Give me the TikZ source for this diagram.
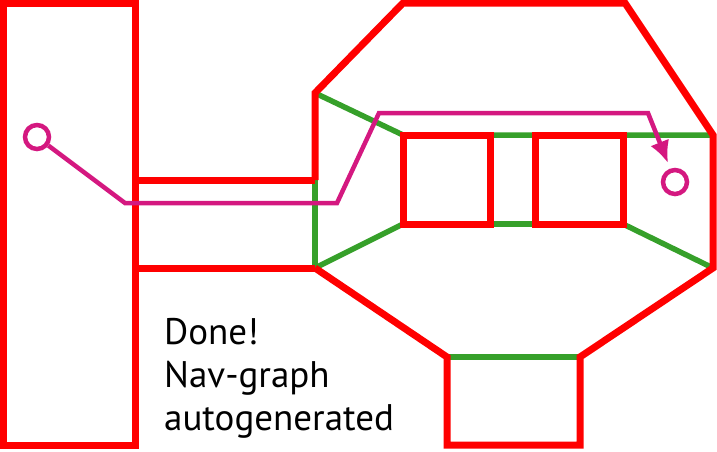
\documentclass[tikz,border=0pt]{standalone}
\usepackage{fontspec}
\setmainfont{PT Sans}
\usetikzlibrary{arrows.meta}
\definecolor{wallred}{RGB}{255,0,0}
\definecolor{linkgreen}{RGB}{54,160,42}
\definecolor{routepink}{RGB}{212,24,128}
\begin{document}
\begin{tikzpicture}[x=1pt, y=-1pt,
    wall/.style={wallred, line width=7pt, line join=miter},
    portal/.style={linkgreen, line width=5.5pt},
    route/.style={routepink, line width=4.5pt, line join=miter},
    endpoint/.style={circle, draw=routepink, line width=4.5pt, minimum size=24pt, inner sep=0pt},
    caption/.style={font=\fontsize{37}{43}\selectfont, align=left, anchor=north west, inner sep=0pt}]
  \useasboundingbox (0,0) rectangle (717,451);
  % nav-graph links
  \draw[portal] (135,180) -- (135,268);
  \draw[portal] (315,180) -- (315,268);
  \draw[portal] (315,93) -- (403,135) -- (713,135);
  \draw[portal] (315,268) -- (403,224);
  \draw[portal] (490,224) -- (535,224);
  \draw[portal] (623,224) -- (713,268);
  \draw[portal] (447,357) -- (580,357);
  % walls
  \draw[wall] (3,3) rectangle (135,445);
  \draw[wall] (135,180) -- (315,180);
  \draw[wall] (135,268) -- (315,268);
  \draw[wall] (315,180) -- (315,93) -- (403,3) -- (625,3) -- (713,135) -- (713,268)
    -- (580,357) -- (580,445) -- (447,445) -- (447,357) -- (315,268);
  \draw[wall] (403,135) rectangle (490,224);
  \draw[wall] (535,135) rectangle (623,224);
  % route
  \node[endpoint] (start) at (37,137) {};
  \node[endpoint] (goal) at (675,182) {};
  \coordinate (turn) at (648,113);
  \draw[route, -{Latex[length=22pt, width=20pt]}] (start) -- (125,203) -- (337,203)
    -- (379,113) -- (turn) -- (668,163);
  \node[caption] (msg) at (164,318) {Done!\\Nav-graph\\autogenerated};
\end{tikzpicture}
\end{document}
